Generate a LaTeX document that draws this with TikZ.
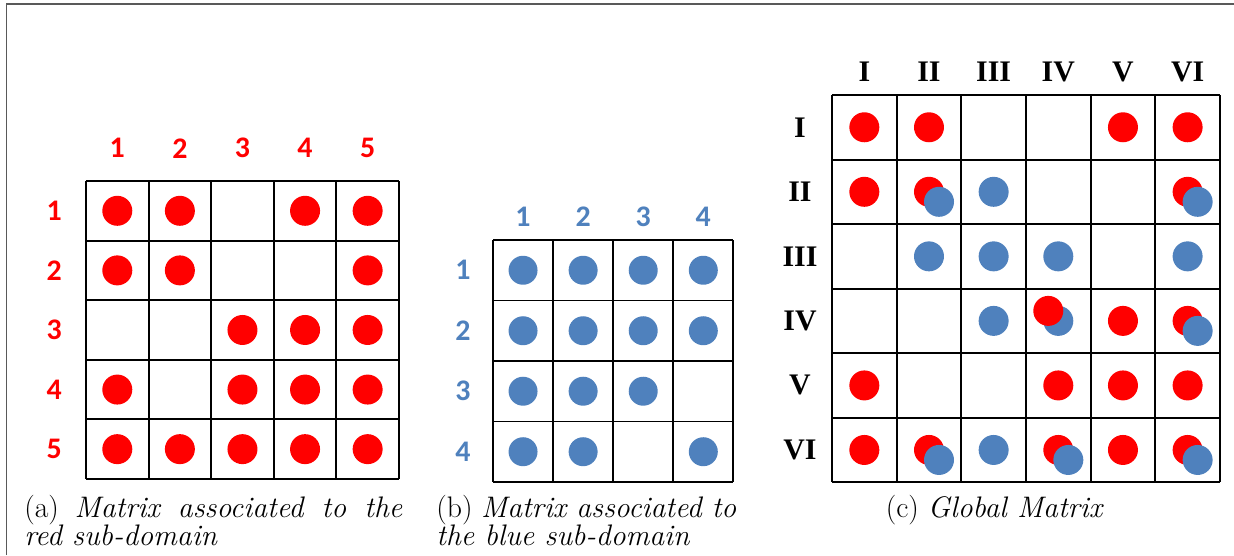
\documentclass[tikz,border=0pt]{standalone}
\usepackage{fontspec}
\newfontfamily\calfont{Carlito}
\newfontfamily\timesfont{Liberation Serif}
\usetikzlibrary{positioning}
\definecolor{dotred}{RGB}{255,0,0}
\definecolor{dotblue}{RGB}{79,129,189}

\begin{document}
\begin{tikzpicture}[x=0.02cm,y=-0.02cm,
  cell/.style={line width=1.1pt},
  rdot/.style={fill=dotred},
  bdot/.style={fill=dotblue},
  rlab/.style={font=\calfont\bfseries\fontsize{17}{17}\selectfont,text=dotred},
  blab/.style={font=\calfont\bfseries\fontsize{17}{17}\selectfont,text=dotblue},
  glab/.style={font=\timesfont\bfseries\fontsize{17}{17}\selectfont},
  capt/.style={font=\fontsize{16.9}{16}\selectfont,inner sep=0pt,align=justify}]
  \useasboundingbox (0,0) rectangle (1234,555);
  \draw[gray!70!black,line width=1pt] (6.5,555) -- (6.5,4) -- (1234,4);

  % (a) red sub-domain
  \begin{scope}[shift={(86,181)},x=1.252cm,y=-1.192cm]
    \foreach \i in {0,...,5} {
      \draw[cell] (\i,0) -- (\i,5);
      \draw[cell] (0,\i) -- (5,\i);
    }
    \foreach \k in {1,...,5} {
      \node[rlab] (rc\k) at (\k-0.5,-0.55) {\k};
      \node[rlab] (rr\k) at (-0.51,\k-0.5) {\k};
    }
    \foreach \r/\c in {1/1,1/2,1/4,1/5,2/1,2/2,2/5,3/3,3/4,3/5,
                       4/1,4/3,4/4,4/5,5/1,5/2,5/3,5/4,5/5}
      \fill[rdot] (\c-0.5,\r-0.5) circle (0.3cm);
  \end{scope}

  % (b) blue sub-domain
  \begin{scope}[shift={(493,240)},x=1.202cm,y=-1.21cm]
    \foreach \i in {0,...,4} {
      \draw[cell] (\i,0) -- (\i,4);
      \draw[cell] (0,\i) -- (4,\i);
    }
    \foreach \k in {1,...,4} {
      \node[blab] (bc\k) at (\k-0.5,-0.385) {\k};
      \node[blab] (br\k) at (-0.5,\k-0.5) {\k};
    }
    \foreach \r/\c in {1/1,1/2,1/3,1/4,2/1,2/2,2/3,2/4,3/1,3/2,3/3,4/1,4/2,4/4}
      \fill[bdot] (\c-0.5,\r-0.5) circle (0.29cm);
  \end{scope}

  % (c) global matrix
  \begin{scope}[shift={(832,95)},x=1.2934cm,y=-1.291cm]
    \foreach \i in {0,...,6} {
      \draw[cell] (\i,0) -- (\i,6);
      \draw[cell] (0,\i) -- (6,\i);
    }
    \foreach \k/\t in {1/I,2/II,3/III,4/IV,5/V,6/VI} {
      \node[glab] (gc\k) at (\k-0.5,-0.356) {\t};
      \node[glab] (gr\k) at (-0.495,\k-0.5) {\t};
    }
    % red entries
    \foreach \r/\c in {1/1,1/2,1/5,1/6,2/1,2/2,2/6,4/5,4/6,
                       5/1,5/4,5/5,5/6,6/1,6/2,6/4,6/5,6/6}
      \fill[rdot] (\c-0.5,\r-0.5) circle (0.3cm);
    % blue entries
    \foreach \r/\c in {2/3,3/2,3/3,3/4,3/6,4/3,4/4,6/3}
      \fill[bdot] (\c-0.5,\r-0.5) circle (0.3cm);
    % shared entries
    \foreach \r/\c in {2/2,2/6,4/6,6/2,6/4,6/6}
      \fill[bdot] (\c-0.345,\r-0.345) circle (0.3cm);
    \fill[rdot] (3.345,3.345) circle (0.3cm);
  \end{scope}

  \node[capt,text width=7.56cm,anchor=base west] (capa) at (24,517)
    {(a) {\itshape Matrix associated to the\linebreak red sub-domain}};
  \node[capt,text width=6cm,anchor=base west] (capb) at (436,517)
    {(b) {\itshape Matrix associated to\linebreak the blue sub-domain}};
  \node[capt,anchor=base] (capc) at (994,517) {(c) {\itshape Global Matrix}};
\end{tikzpicture}
\end{document}
